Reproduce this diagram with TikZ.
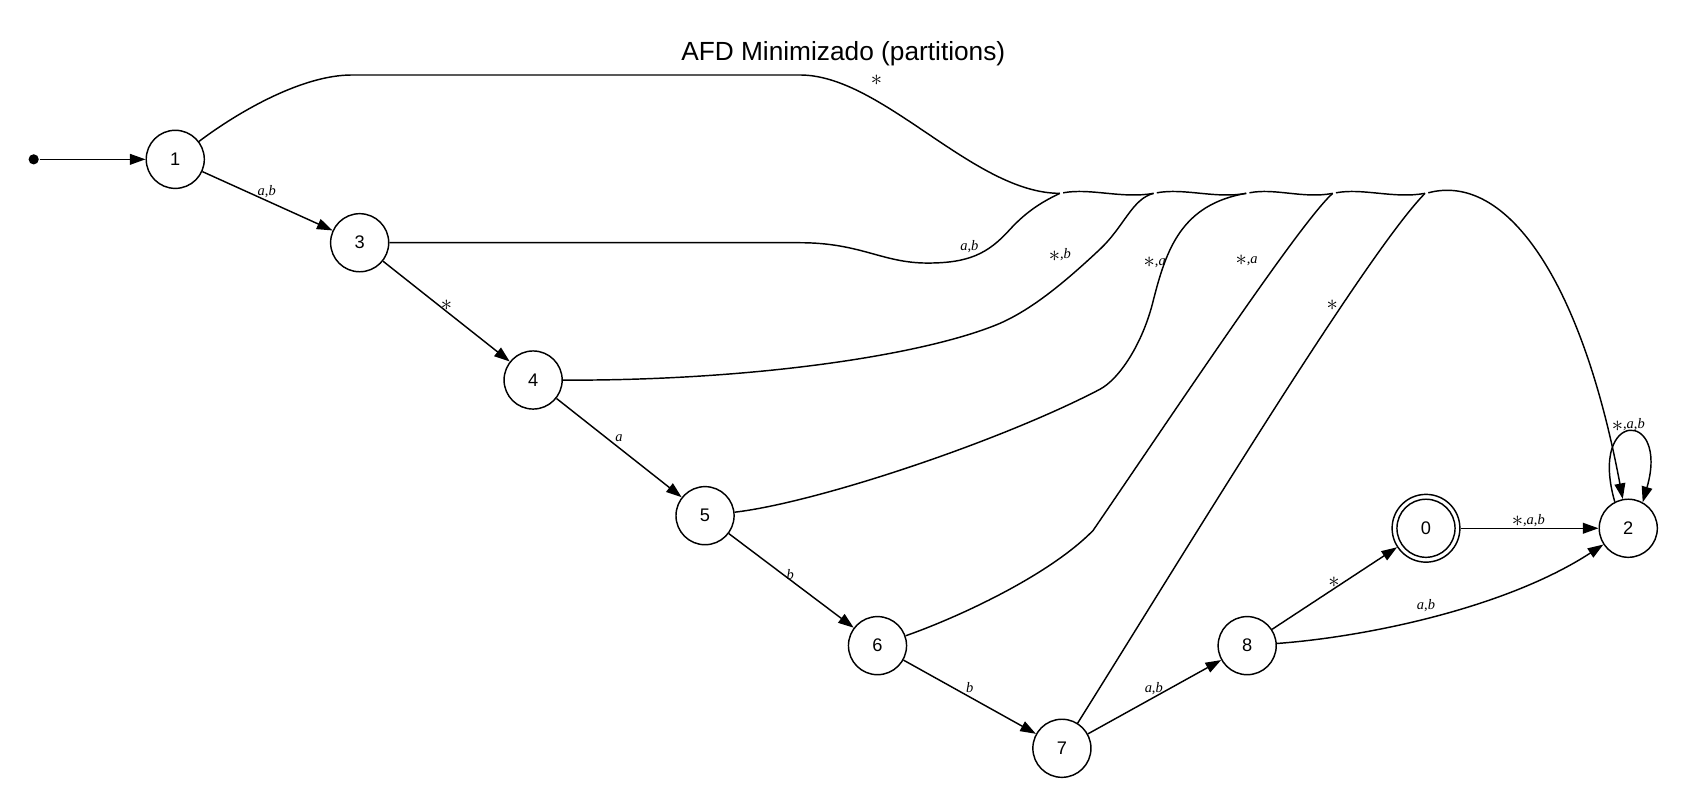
\RequirePackage{fix-cm}
\documentclass[tikz,border=0pt]{standalone}
\usepackage{fontspec}
\setmainfont{Liberation Serif}
\newfontfamily\sansf{Liberation Sans}
\usetikzlibrary{arrows.meta}
\newcommand\astx{\raisebox{-2bp}{\fontsize{21}{21}\selectfont$\ast$}}
\newcommand\lA{\textit{a}}
\newcommand\lB{\textit{b}}
\begin{document}
\begin{tikzpicture}[x=1bp,y=-1bp, line width=1.35bp,
  state/.style={circle, draw, minimum size=54bp, inner sep=0pt, font=\sansf\fontsize{17}{17}\selectfont},
  lab/.style={inner sep=0pt, font=\fontsize{13.5}{13.5}\selectfont},
  arr/.style={-{Triangle[length=14.5bp,width=10bp]}}]
\useasboundingbox (0,0) rectangle (1568,750);
\node[font=\sansf\fontsize{24.5}{24.5}\selectfont, anchor=base, inner sep=0pt] (title) at (783.8,56.4) {AFD Minimizado (partitions)};

% states
\node[circle, fill, inner sep=0pt, minimum size=9.5bp] (dot) at (31.3,148.1) {};
\node[state] (n1) at (162.9,148.1) {1};
\node[state] (n3) at (334.3,225.6) {3};
\node[state] (n4) at (495.5,353.2) {4};
\node[state] (n5) at (655.3,479.3) {5};
\node[state] (n6) at (815.6,600.1) {6};
\node[state] (n7) at (987,695.5) {7};
\node[state] (n8) at (1159.2,600.1) {8};
\node[state, minimum size=63bp] (n0) at (1325.4,491) {0};
\draw (n0.center) circle[radius=27bp];
\node[state] (n2) at (1513.4,491) {2};

% merge points
\coordinate (m1) at (985.1,179.7);
\coordinate (m2) at (1072.2,179.7);
\coordinate (m3) at (1158.3,179.7);
\coordinate (m4) at (1238.7,179.7);
\coordinate (m5) at (1324.5,179.7);
\coordinate (m1g) at (988.1,179.2);
\coordinate (m2g) at (1075.2,179.2);
\coordinate (m3g) at (1161.3,179.2);
\coordinate (m4g) at (1241.7,179.2);
\coordinate (m5g) at (1327.5,179.2);

% straight transitions
\draw[arr] (dot) -- (n1);
\draw[arr] (n1) -- (n3);
\draw[arr] (n3) -- (n4);
\draw[arr] (n4) -- (n5);
\draw[arr] (n5) -- (n6);
\draw[arr] (n6) -- (n7);
\draw[arr] (n7) -- (n8);
\draw[arr] (n8) -- (n0);
\draw[arr] (n0) -- (n2);
\draw[arr] (n8) .. controls (1270,592) and (1400,565) .. (n2);
\draw[arr] (n2.117) .. controls (1476,380) and (1552,380) .. (n2.61);

% concentrated edges to 2
\draw (n1) .. controls (220,105) and (280,69.7) .. (327,69.7) -- (743.6,69.7)
      .. controls (820,69.7) and (905,179.7) .. (m1);
\draw (n3) -- (743.6,225.6) .. controls (800,225.6) and (820,244.5) .. (862,244.5)
      .. controls (900,244.5) and (918,236) .. (938,214)
      .. controls (955,195.3) and (970,187) .. (m1);
\draw (n4) .. controls (700,354) and (860,330) .. (929.5,300.5)
      .. controls (960,287) and (990,262) .. (1022,232)
      .. controls (1045,210.5) and (1052,185) .. (m2);
\draw (n5) .. controls (760,467) and (930,410) .. (1022,362)
      .. controls (1040,352.6) and (1062,320) .. (1072,279)
      .. controls (1084,232) and (1098,190) .. (m3);
\draw (n6) .. controls (890,574) and (975,535) .. (1016,493)
      .. controls (1100,370) and (1210,205) .. (m4);
\draw (n7) .. controls (1100,515) and (1270,235) .. (m5);

\draw (m1g) .. controls (1014,174.5) and (1043,185) .. (m2);
\draw (m2g) .. controls (1101,174.5) and (1130,185) .. (m3);
\draw (m3g) .. controls (1185,174.5) and (1212,185) .. (m4);
\draw (m4g) .. controls (1267,174.5) and (1296,185) .. (m5);
\draw[arr] (m5g) .. controls (1400,160) and (1470,260) .. (n2);

% labels
\node[lab] (l12) at (814.6,75) {\astx};
\node[lab] (l13) at (247.9,178.1) {\lA,\lB};
\node[lab] (l32) at (901,229.3) {\lA,\lB};
\node[lab] (l34) at (414.9,284.1) {\astx};
\node[lab] (l42) at (985.1,237) {\astx,\lB};
\node[lab] (l45) at (575.3,407.4) {\lA};
\node[lab] (l52) at (1073.3,244.1) {\astx,\lA};
\node[lab] (l56) at (734.5,534.4) {\lB};
\node[lab] (l62) at (1158.7,241.7) {\astx,\lA};
\node[lab] (l67) at (901.3,638.8) {\lB};
\node[lab] (l72) at (1238.3,284.1) {\astx};
\node[lab] (l78) at (1072.4,639.8) {\lA,\lB};
\node[lab] (l80) at (1240,541) {\astx};
\node[lab] (l82) at (1325.4,563.2) {\lA,\lB};
\node[lab] (l02) at (1420.5,484) {\astx,\lA,\lB};
\node[lab] (l22) at (1513.4,395) {\astx,\lA,\lB};
\end{tikzpicture}
\end{document}
